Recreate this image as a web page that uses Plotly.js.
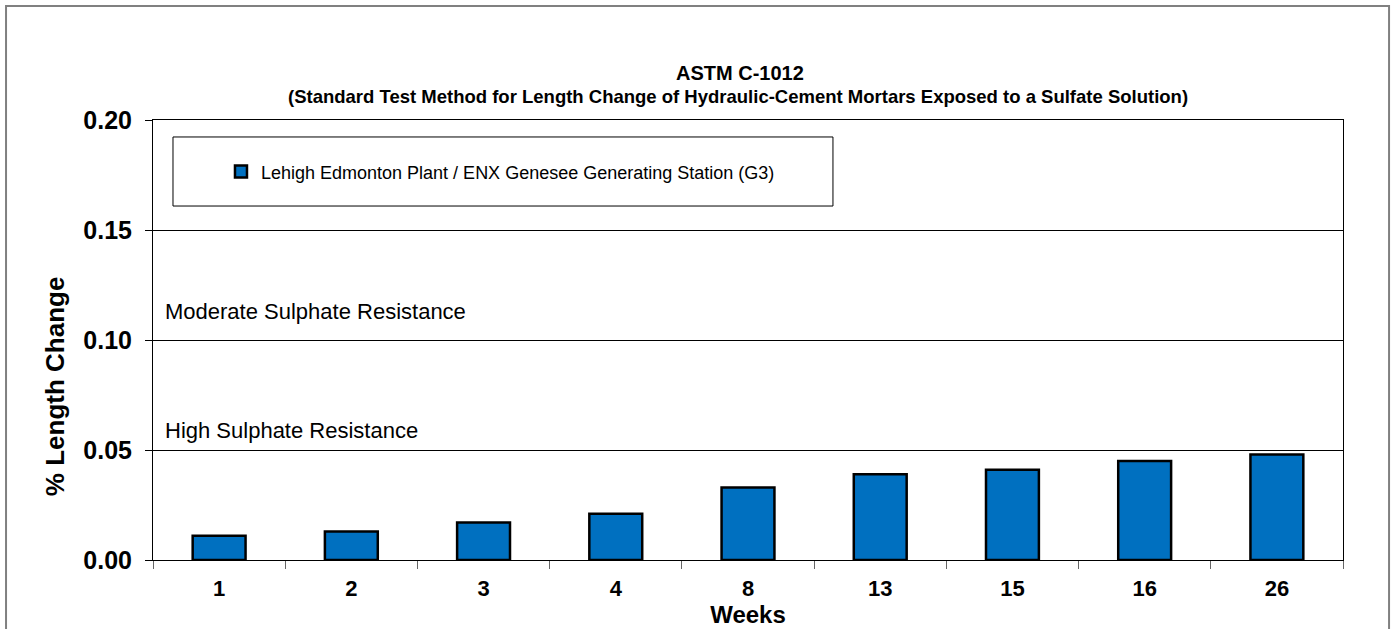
<!DOCTYPE html>
<html>
<head>
<meta charset="utf-8">
<script src="https://cdn.plot.ly/plotly-3.0.1.min.js"></script>
<style>html,body{margin:0;padding:0;background:#fff;}#chart{width:1392px;height:629px;}</style>
</head>
<body>
<div id="chart"></div>
<script>
const weeks = ["1", "2", "3", "4", "8", "13", "15", "16", "26"];
const lengthChange = [0.011, 0.013, 0.017, 0.021, 0.033, 0.039, 0.041, 0.045, 0.048];
const seriesName = "Lehigh Edmonton Plant / ENX Genesee Generating Station (G3)";
const yTicks = [0, 0.05, 0.10, 0.15, 0.20];
const limitLabels = ["Moderate Sulphate Resistance", "High Sulphate Resistance"];
const limitValues = [0.10, 0.05];

const FONT = "Liberation Sans, Arial, sans-serif";

const trace = {
  type: "bar",
  x: weeks,
  y: lengthChange,
  name: seriesName,
  marker: {color: "#0070C0", line: {color: "#000000", width: 2.5}},
  showlegend: true
};

const labelShift = [29, 20];
const annotations = [
  {text: "<b>ASTM C-1012</b>", xref: "paper", yref: "paper", x: 0.4933, y: 1.107, xanchor: "center", yanchor: "middle", showarrow: false, font: {family: FONT, size: 20, color: "#000"}},
  {text: "<b>(Standard Test Method for Length Change of Hydraulic-Cement Mortars Exposed to a Sulfate Solution)</b>", xref: "paper", yref: "paper", x: 0.4916, y: 1.054, xanchor: "center", yanchor: "middle", showarrow: false, font: {family: FONT, size: 18.5, color: "#000"}},
  {text: "<b>% Length Change</b>", xref: "paper", yref: "paper", x: -0.0824, y: 0.395, xanchor: "center", yanchor: "middle", textangle: -90, showarrow: false, font: {family: FONT, size: 26, color: "#000"}}
];
limitLabels.forEach((t, i) => {
  annotations.push({text: t, xref: "paper", yref: "y", x: 0.0084, y: limitValues[i], xanchor: "left", yanchor: "middle", yshift: labelShift[i], showarrow: false, font: {family: FONT, size: 22, color: "#000"}});
});

const layout = {
  width: 1392, height: 629,
  margin: {l: 153, r: 49, t: 120, b: 69, pad: 0},
  paper_bgcolor: "#ffffff", plot_bgcolor: "#ffffff",
  font: {family: FONT, color: "#000"},
  bargap: 0.6,
  xaxis: {
    type: "category",
    tickson: "boundaries",
    ticks: "outside", ticklen: 8, tickcolor: "#666", tickwidth: 1,
    ticklabelstandoff: 9,
    showline: true, linecolor: "#000", linewidth: 1, mirror: true,
    showgrid: false,
    tickfont: {family: FONT, size: 22, color: "#000", weight: "bold"},
    title: {text: "<b>Weeks</b>", font: {family: FONT, size: 24, color: "#000"}, standoff: 1}
  },
  yaxis: {
    range: [0, 0.2],
    tickvals: yTicks,
    tickformat: ".2f",
    ticks: "outside", ticklen: 7, tickcolor: "#000", tickwidth: 1,
    ticklabelstandoff: 8,
    showline: true, linecolor: "#000", linewidth: 1, mirror: true,
    showgrid: true, gridcolor: "#000", gridwidth: 1,
    zeroline: false,
    tickfont: {family: FONT, size: 25, color: "#000", weight: "bold"}
  },
  legend: {
    x: 0.292, y: 0.882, xanchor: "center", yanchor: "middle",
    bgcolor: "rgba(0,0,0,0)", borderwidth: 0,
    font: {family: FONT, size: 18, color: "#000"},
    itemwidth: 30
  },
  shapes: [
    {type: "rect", xref: "paper", yref: "paper", x0: 0.0168, x1: 0.5714, y0: 0.8045, y1: 0.9614, line: {color: "#000", width: 1}, fillcolor: "rgba(0,0,0,0)", layer: "above"},
    {type: "rect", xref: "paper", yref: "paper", x0: -0.1235, x1: 1.0387, y0: -0.2, y1: 1.259, line: {color: "#808080", width: 2}, fillcolor: "rgba(0,0,0,0)", layer: "below"}
  ],
  annotations: annotations
};

Plotly.newPlot("chart", [trace], layout, {displayModeBar: false, staticPlot: true});
</script>
</body>
</html>
